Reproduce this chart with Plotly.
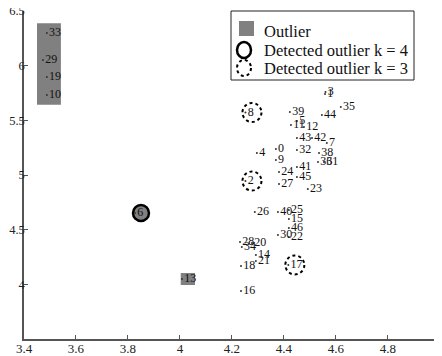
import plotly.graph_objects as go

ids = [0, 1, 2, 3, 4, 5, 6, 7, 8, 9, 10, 11, 12, 13, 14, 15, 16, 17, 18, 19, 20, 21, 22, 23,
       24, 25, 26, 27, 28, 29, 30, 31, 32, 33, 34, 35, 36, 38, 39, 40, 41, 42, 43, 44, 45, 46]
xs = [4.369, 4.558, 4.252, 4.560, 4.296, 4.450, 3.827, 4.565, 4.252, 4.369, 3.488, 4.427,
      4.477, 4.008, 4.292, 4.419, 4.235, 4.417, 4.235, 3.488, 4.277, 4.292, 4.419, 4.492,
      4.381, 4.419, 4.288, 4.381, 4.231, 3.473, 4.377, 4.554, 4.450, 3.488, 4.238, 4.619,
      4.531, 4.535, 4.423, 4.377, 4.450, 4.508, 4.450, 4.546, 4.450, 4.419]
ys = [5.238, 5.742, 4.945, 5.760, 5.201, 5.494, 4.652, 5.293, 5.572, 5.137, 5.732, 5.457,
      5.439, 4.049, 4.268, 4.598, 3.939, 4.177, 4.168, 5.896, 4.378, 4.213, 4.433, 4.872,
      5.027, 4.680, 4.662, 4.918, 4.387, 6.052, 4.451, 5.119, 5.229, 6.299, 4.341, 5.622,
      5.119, 5.201, 5.576, 4.662, 5.073, 5.338, 5.338, 5.549, 4.982, 4.515]

outlier_groups = [[10, 19, 29, 33], [13]]
detected_k4 = [6]
detected_k3 = [8, 2, 17]

x_ticks = [3.4, 3.6, 3.8, 4.0, 4.2, 4.4, 4.6, 4.8, 5.0]
x_tick_text = ["3.4", "3.6", "3.8", "4", "4.2", "4.4", "4.6", "4.8", "5"]
y_ticks = [4.0, 4.5, 5.0, 5.5, 6.0, 6.5]
y_tick_text = ["4", "4.5", "5", "5.5", "6", "6.5"]

pos = {i: (x, y) for i, x, y in zip(ids, xs, ys)}
SERIF = "'Liberation Serif', 'Times New Roman', 'DejaVu Serif', serif"

# page body has an 8px margin: plot area in figure coords is shifted by -8px
OFF = 8
L, R, T, B = 24 - OFF, 440 - OFF, 11 - OFF, 339 - OFF
W, H = 442, 356

fig = go.Figure()
shapes = []

for grp in outlier_groups:
    gx = [pos[i][0] for i in grp]
    gy = [pos[i][1] for i in grp]
    if len(grp) > 1:
        padx0, padx1, pady = 0.023, 0.054, 0.09
    else:
        padx0, padx1, pady = 0.005, 0.05, 0.055
    shapes.append(dict(type="rect", xref="x", yref="y", layer="below",
                       x0=min(gx) - padx0, x1=max(gx) + padx1,
                       y0=min(gy) - pady, y1=max(gy) + pady,
                       fillcolor="#808080", line=dict(width=0)))

for i in detected_k4:
    shapes.append(dict(type="circle", xref="x", yref="y", xsizemode="pixel", ysizemode="pixel",
                       xanchor=pos[i][0], yanchor=pos[i][1], x0=-2, x1=14, y0=-8, y1=8,
                       fillcolor="#808080", line=dict(color="black", width=2.5), layer="below"))
for i in detected_k3:
    shapes.append(dict(type="circle", xref="x", yref="y", xsizemode="pixel", ysizemode="pixel",
                       xanchor=pos[i][0], yanchor=pos[i][1], x0=-3, x1=16, y0=-9.5, y1=9.5,
                       line=dict(color="black", width=2, dash="dot")))

fig.add_trace(go.Scatter(
    x=xs, y=ys, mode="markers+text",
    text=[str(i) for i in ids], textposition="middle right",
    textfont=dict(family=SERIF, size=12, color="#111"),
    marker=dict(size=2, color="#333"),
    hoverinfo="skip", showlegend=False, cliponaxis=False))

def px(v):
    return (v - 24) / 416.0

def py(v):
    return (339 - v) / 328.0

shapes += [
    dict(type="rect", xref="paper", yref="paper", x0=px(231), x1=px(414), y0=py(80), y1=py(11),
         fillcolor="white", line=dict(color="#222", width=1)),
    dict(type="rect", xref="paper", yref="paper", x0=px(239), x1=px(254), y0=py(36), y1=py(21),
         fillcolor="#808080", line=dict(width=0)),
    dict(type="circle", xref="paper", yref="paper", x0=px(237), x1=px(251), y0=py(58), y1=py(42),
         line=dict(color="black", width=2.5)),
    dict(type="circle", xref="paper", yref="paper", x0=px(237), x1=px(251), y0=py(76), y1=py(60),
         line=dict(color="black", width=2, dash="dot")),
]
legend_labels = ["Outlier", "Detected outlier k = 4", "Detected outlier k = 3"]
legend_y = [31, 50, 68]
annotations = [dict(xref="paper", yref="paper", x=px(262), y=py(yy), xanchor="left", yanchor="middle",
                    text=t, showarrow=False, font=dict(family=SERIF, size=16.5, color="#111"))
               for t, yy in zip(legend_labels, legend_y)]

axis_common = dict(showline=True, linecolor="#555", linewidth=1.5, mirror=False, showgrid=False,
                   zeroline=False, ticks="inside", ticklen=4, tickcolor="#555", tickwidth=1,
                   automargin=False, ticklabeloverflow="allow")

fig.update_layout(
    width=W, height=H,
    margin=dict(l=L, r=W - R, t=T, b=H - B, autoexpand=False),
    paper_bgcolor="white", plot_bgcolor="white",
    font=dict(family=SERIF),
    shapes=shapes, annotations=annotations,
    xaxis=dict(range=[3.4, 5.0005], tickvals=x_ticks, ticktext=x_tick_text,
               ticklabelstandoff=-3, tickfont=dict(family=SERIF, size=13, color="#222"),
               **axis_common),
    yaxis=dict(range=[3.5, 6.5005], tickvals=y_ticks, ticktext=y_tick_text,
               ticklabelstandoff=-5, tickfont=dict(family=SERIF, size=12.5, color="#222"),
               **axis_common),
    showlegend=False,
)

fig.write_html("out.html")
